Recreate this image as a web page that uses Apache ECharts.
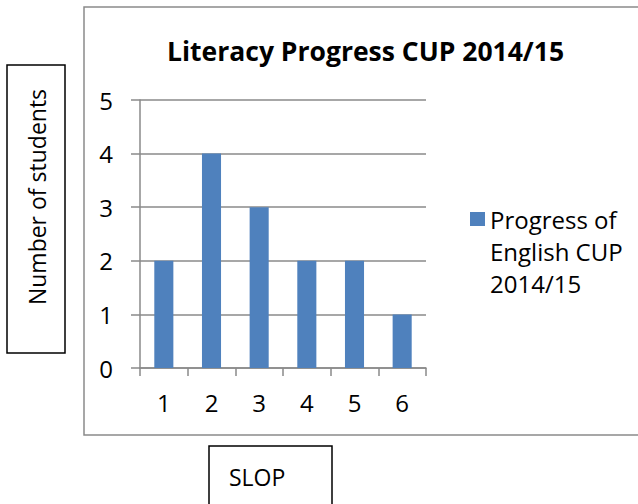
<html>
<head>
<meta charset="utf-8">
<script src="https://cdn.jsdelivr.net/npm/echarts@6/dist/echarts.min.js"></script>
</head>
<body>
<style>
    html, body, #main {
        width: 100%;
        height: 100%;
        margin: 0;
    }
</style>
<div id='main'></div>
<script>
var categories = ['1', '2', '3', '4', '5', '6'];
var progress = [2, 4, 3, 2, 2, 1];
var seriesName = 'Progress of English CUP 2014/15';
var yMin = 0, yMax = 5, yStep = 1;

var font = 'Open Sans';
var gray = '#8a8a8a';

var chart = echarts.init(document.getElementById('main'), null, {renderer: 'svg'});
var option = {
    backgroundColor: '#fff',
    animation: false,
    title: {
        text: 'Literacy Progress CUP 2014/15',
        left: 162,
        top: 32,
        textStyle: {fontFamily: font, fontWeight: 'bold', fontSize: 26.5, color: '#000'}
    },
    legend: {
        left: 465,
        top: 134,
        itemWidth: 15,
        itemHeight: 14,
        icon: 'rect',
        // two blank lines on top so the marker sits beside the first text line
        formatter: function () { return '\n\nProgress of\nEnglish CUP\n2014/15'; },
        textStyle: {fontFamily: font, fontSize: 24, color: '#000', lineHeight: 32},
        data: [seriesName]
    },
    grid: {left: 140, top: 100, right: 212, bottom: 136},
    xAxis: {
        type: 'category',
        data: categories,
        axisLine: {lineStyle: {color: gray, width: 1.5}},
        axisTick: {show: true, length: 8, lineStyle: {color: gray, width: 1.5}},
        axisLabel: {margin: 22, fontFamily: font, fontSize: 24, color: '#000'}
    },
    yAxis: {
        type: 'value',
        min: yMin,
        max: yMax,
        interval: yStep,
        axisLine: {show: true, lineStyle: {color: gray, width: 1.5}},
        axisTick: {show: true, length: 9, lineStyle: {color: gray, width: 1.5}},
        splitLine: {lineStyle: {color: gray, width: 1.5}},
        axisLabel: {margin: 27, fontFamily: font, fontSize: 24, color: '#000'}
    },
    series: [{
        name: seriesName,
        type: 'bar',
        data: progress,
        barWidth: '40%',
        itemStyle: {color: '#4f81bd'}
    }],
    graphic: [
        {type: 'rect', shape: {x: 84, y: 7, width: 600, height: 428},
         style: {fill: 'none', stroke: gray, lineWidth: 1.5}, silent: true},
        {type: 'rect', shape: {x: 7, y: 65, width: 58, height: 288},
         style: {fill: 'none', stroke: '#000', lineWidth: 1.5}, silent: true},
        {type: 'text', x: 37, y: 197, rotation: Math.PI / 2,
         style: {text: 'Number of students', font: '23px ' + font, fill: '#000',
                 align: 'center', verticalAlign: 'middle'}},
        {type: 'rect', shape: {x: 209, y: 446, width: 123, height: 80},
         style: {fill: 'none', stroke: '#000', lineWidth: 1.5}, silent: true},
        {type: 'text', x: 229, y: 477,
         style: {text: 'SLOP', font: '23px ' + font, fill: '#000',
                 align: 'left', verticalAlign: 'middle'}}
    ]
};
chart.setOption(option);
window.onresize = chart.resize;
</script>
</body>
</html>
